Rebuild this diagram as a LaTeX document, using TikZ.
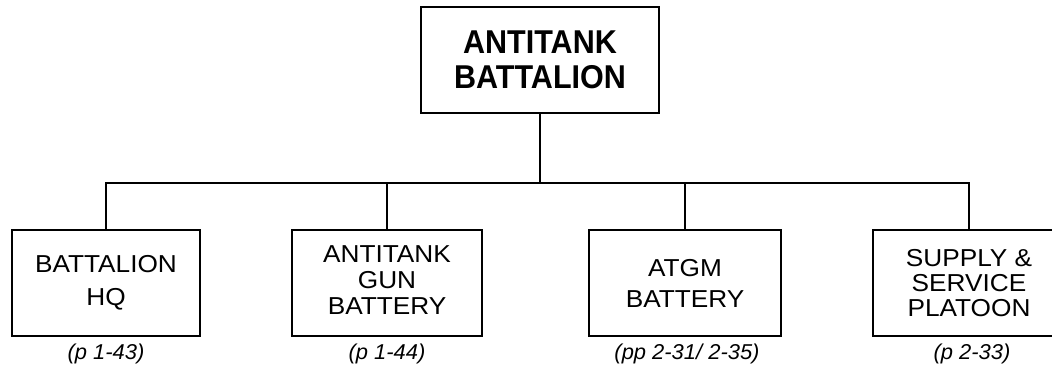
\documentclass[tikz,border=0pt]{standalone}
\usepackage{fontspec}
\setmainfont{Liberation Sans}
\newfontfamily\topfont[FakeStretch=0.925]{Liberation Sans}
\newfontfamily\boxfont[FakeStretch=1.07]{Liberation Sans}
\newfontfamily\labfont[FakeStretch=1.02]{Liberation Sans}
\begin{document}
\begin{tikzpicture}[x=1pt,y=1pt,
  topbox/.style={draw,line width=1.6pt,minimum width=238pt,minimum height=106pt,align=center,font=\topfont\fontsize{33}{35}\selectfont\bfseries,inner sep=0pt},
  unitbox/.style={draw,line width=1.6pt,minimum width=190pt,minimum height=106pt,align=center,inner sep=0pt},
  pagelabel/.style={font=\labfont\fontsize{21.5}{24}\selectfont\itshape,inner sep=0pt,anchor=base},
  link/.style={line width=1.6pt}]
\useasboundingbox (0,0) rectangle (1052,368);
\clip (0,0) rectangle (1052,368);
\node[topbox] (top) at (540,308) {ANTITANK\\BATTALION};
\node[unitbox,minimum width=188pt,font=\boxfont\fontsize{24.5}{33}\selectfont] (hq) at (106,85) {BATTALION\\HQ};
\node[unitbox,font=\boxfont\fontsize{24.5}{26}\selectfont] (gun) at (387,85) {\raisebox{0pt}[\height][0pt]{ANTITANK}\\GUN\\BATTERY\rule[-6pt]{0pt}{6pt}};
\node[unitbox,minimum width=192pt,font=\boxfont\fontsize{24.5}{31}\selectfont] (atgm) at (685,85) {ATGM\\BATTERY};
\node[unitbox,minimum width=192pt,font=\boxfont\fontsize{24.5}{25}\selectfont] (sup) at (969,85) {SUPPLY \&\\SERVICE\\PLATOON};
\node[pagelabel] (lhq) at (106,9) {(p 1-43)};
\node[pagelabel] (lgun) at (387,9) {(p 1-44)};
\node[pagelabel] (latgm) at (687,9) {(pp 2-31/ 2-35)};
\node[pagelabel] (lsup) at (972,9) {(p 2-33)};
\coordinate (bar) at (540,185);
\draw[link] (top.south) -- (bar);
\draw[link] (hq.north) |- (bar) -| (sup.north);
\draw[link] (gun.north) -- (gun.north |- bar);
\draw[link] (atgm.north) -- (atgm.north |- bar);
\end{tikzpicture}
\end{document}
